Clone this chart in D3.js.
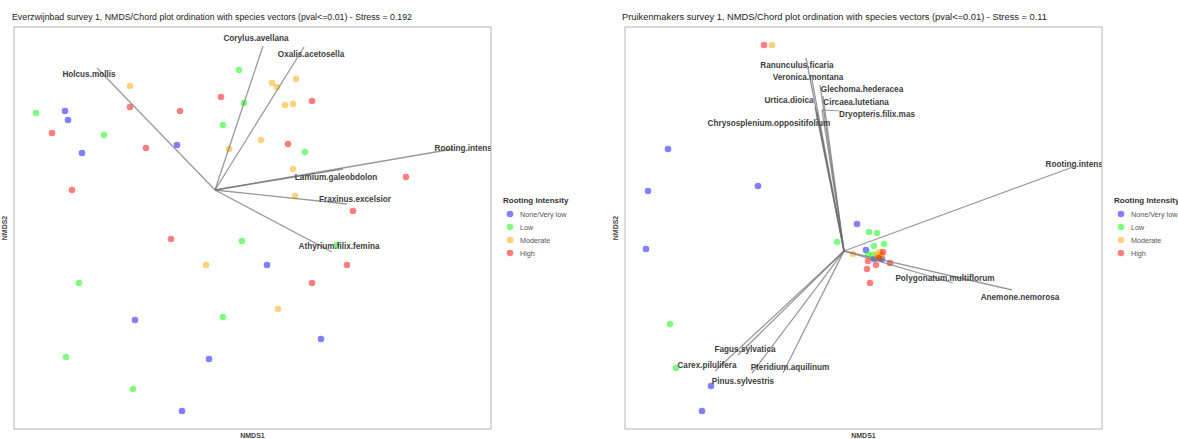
<!DOCTYPE html>
<html>
<head>
<meta charset="utf-8">
<script src="https://cdn.jsdelivr.net/npm/d3@7"></script>
<style>
  body { margin: 0; background: #fff; font-family: "Liberation Sans", Arial, sans-serif; }
  svg { display: block; }
</style>
</head>
<body>
<div id="chart"></div>
<script>
// legend groups
var groups = ["None/Very low", "Low", "Moderate", "High"];

// ---- Everzwijnbad: site scores [NMDS1, NMDS2] per rooting class
var evzNone = [[-0.75, 0.395], [-0.735, 0.35], [-0.665, 0.185], [-0.19, 0.225], [0.26, -0.375],
  [-0.40, -0.65], [-0.03, -0.845], [-0.165, -1.105], [0.53, -0.745]];
var evzLow = [[-0.895, 0.385], [-0.555, 0.275], [0.12, 0.60], [0.145, 0.435], [0.04, 0.325],
  [0.45, 0.19], [0.135, -0.255], [-0.68, -0.465], [0.04, -0.635], [-0.745, -0.835],
  [-0.41, -0.995], [0.61, -0.275]];
var evzModerate = [[-0.425, 0.52], [0.07, 0.205], [0.285, 0.535], [0.31, 0.515], [0.405, 0.555],
  [0.35, 0.425], [0.39, 0.43], [0.23, 0.25], [0.39, 0.105], [0.40, -0.03], [-0.045, -0.375],
  [0.315, -0.595]];
var evzHigh = [[-0.815, 0.285], [-0.715, 0.0], [-0.425, 0.415], [-0.175, 0.395], [-0.345, 0.21],
  [0.03, 0.465], [0.485, 0.445], [0.365, 0.23], [0.955, 0.065], [0.69, -0.105],
  [-0.22, -0.245], [0.66, -0.375], [0.485, -0.465]];

// fitted vectors (envfit, pval<=0.01)
var evzVectors = ["Holcus.mollis", "Corylus.avellana", "Oxalis.acetosella", "Rooting.intensity",
  "Lamium.galeobdolon", "Fraxinus.excelsior", "Athyrium.filix.femina"];
var evzVecX = [-0.59, 0.24, 0.445, 1.19, 0.64, 0.66, 0.585];
var evzVecY = [0.61, 0.72, 0.715, 0.205, 0.105, -0.07, -0.31];
var evzLabX = [-0.63, 0.205, 0.48, 1.265, 0.605, 0.70, 0.62];
var evzLabY = [0.58, 0.76, 0.68, 0.21, 0.065, -0.045, -0.28];

// ---- Pruikenmakers
var pkmNone = [[-0.88, 0.51], [-0.98, 0.30], [-0.43, 0.325], [0.065, 0.135], [-0.99, 0.01],
  [-0.665, -0.675], [-0.71, -0.80], [0.11, 0.005], [0.15, -0.04], [0.19, -0.04]];
var pkmLow = [[0.125, 0.095], [0.165, 0.09], [-0.87, -0.365], [-0.84, -0.585], [-0.035, 0.045],
  [0.20, 0.035], [0.15, 0.025], [0.12, -0.015], [0.18, -0.03], [0.145, -0.02]];
var pkmModerate = [[-0.36, 1.03], [0.045, -0.015], [0.165, -0.015], [0.18, -0.005], [0.19, -0.02],
  [0.17, -0.03]];
var pkmHigh = [[-0.40, 1.03], [0.195, -0.005], [0.23, -0.06], [0.12, -0.05], [0.16, -0.07],
  [0.115, -0.09], [0.13, -0.16], [0.175, -0.035]];

var pkmVectors = ["Ranunculus.ficaria", "Veronica.montana", "Glechoma.hederacea", "Circaea.lutetiana",
  "Urtica.dioica", "Dryopteris.filix.mas", "Chrysosplenium.oppositifolium", "Rooting.intensity",
  "Polygonatum.multiflorum", "Anemone.nemorosa", "Fagus.sylvatica", "Carex.pilulifera",
  "Pinus.sylvestris", "Pteridium.aquilinum"];
var pkmVecX = [-0.19, -0.16, -0.12, -0.105, -0.145, -0.11, -0.135, 1.145, 0.545, 0.84, -0.53, -0.645, -0.46, -0.305];
var pkmVecY = [0.965, 0.855, 0.83, 0.775, 0.72, 0.705, 0.695, 0.42, -0.16, -0.195, -0.52, -0.60, -0.61, -0.61];
var pkmLabX = [-0.235, -0.18, 0.09, 0.06, -0.275, 0.165, -0.375, 1.175, 0.505, 0.88, -0.495, -0.685, -0.505, -0.27];
var pkmLabY = [0.93, 0.87, 0.81, 0.745, 0.755, 0.685, 0.64, 0.435, -0.135, -0.23, -0.49, -0.57, -0.65, -0.58];

var colors = d3.scaleOrdinal().domain(groups).range(["#0000ff", "#00ff00", "#ffa500", "#ff0000"]);

var W = 1178, H = 439;
var svg = d3.select("#chart").append("svg").attr("width", W).attr("height", H);

function panel(cfg) {
    var x = d3.scaleLinear().domain(cfg.xDomain).range([cfg.left, cfg.right]);
    var y = d3.scaleLinear().domain(cfg.yDomain).range([cfg.bottom, cfg.top]);
    var g = svg.append("g");

    // title
    g.append("text")
        .attr("x", cfg.titleX).attr("y", 20)
        .attr("textLength", cfg.titleWidth)
        .attr("lengthAdjust", "spacingAndGlyphs")
        .style("font-size", "9.6px").style("fill", "#222")
        .text(cfg.title);

    var clipId = cfg.id + "-clip";
    g.append("clipPath").attr("id", clipId)
        .append("rect")
        .attr("x", cfg.left).attr("y", cfg.top)
        .attr("width", cfg.right - cfg.left).attr("height", cfg.bottom - cfg.top);

    var plot = g.append("g").attr("clip-path", "url(#" + clipId + ")");

    // points
    var sites = [];
    cfg.sites.forEach(function(arr, i) {
        arr.forEach(function(p) { sites.push({ group: groups[i], x: p[0], y: p[1] }); });
    });
    plot.selectAll("circle.site")
        .data(sites)
        .enter().append("circle")
        .attr("class", "site")
        .attr("cx", function(d) { return x(d.x); })
        .attr("cy", function(d) { return y(d.y); })
        .attr("r", 3.3)
        .style("fill", function(d) { return colors(d.group); })
        .style("fill-opacity", 0.5);

    // vectors
    var vecs = cfg.names.map(function(n, i) {
        return { name: n, x: cfg.vx[i], y: cfg.vy[i], lx: cfg.lx[i], ly: cfg.ly[i] };
    });
    plot.selectAll("line.vec")
        .data(vecs)
        .enter().append("line")
        .attr("class", "vec")
        .attr("x1", x(0)).attr("y1", y(0))
        .attr("x2", function(d) { return x(d.x); })
        .attr("y2", function(d) { return y(d.y); })
        .style("stroke", "#6e6e6e")
        .style("stroke-opacity", 0.7)
        .style("stroke-width", 1.3);

    var labels = plot.selectAll("text.vlab")
        .data(vecs)
        .enter().append("text")
        .attr("class", "vlab")
        .attr("x", function(d) { return x(d.lx); })
        .attr("y", function(d) { return y(d.ly); })
        .attr("dy", "0.35em")
        .attr("text-anchor", "middle")
        .style("font-size", "8.2px").style("font-weight", "bold")
        .style("fill", "#3d3d3d")
        .text(function(d) { return d.name; });

    // repel-style leader segments when a label sits away from its vector tip
    labels.each(function(d) {
        var b = this.getBBox();
        var px = x(d.x), py = y(d.y);
        var cx = Math.max(b.x, Math.min(px, b.x + b.width));
        var cy = Math.max(b.y + 1, Math.min(py, b.y + b.height - 1));
        if (Math.hypot(cx - px, cy - py) > 5) {
            plot.append("line")
                .attr("x1", px).attr("y1", py).attr("x2", cx).attr("y2", cy)
                .style("stroke", "#6e6e6e").style("stroke-opacity", 0.8)
                .style("stroke-width", 0.9);
        }
    });

    // panel border
    g.append("rect")
        .attr("x", cfg.left).attr("y", cfg.top)
        .attr("width", cfg.right - cfg.left).attr("height", cfg.bottom - cfg.top)
        .style("fill", "none").style("stroke", "#b5b5b5").style("stroke-width", 1);

    // axis titles
    g.append("text")
        .attr("x", (cfg.left + cfg.right) / 2).attr("y", 438)
        .attr("text-anchor", "middle")
        .style("font-size", "7px").style("font-weight", "bold").style("fill", "#444")
        .text("NMDS1");
    g.append("text")
        .attr("transform", "translate(" + (cfg.left - 7) + "," + ((cfg.top + cfg.bottom) / 2) + ") rotate(-90)")
        .attr("text-anchor", "middle")
        .style("font-size", "7px").style("font-weight", "bold").style("fill", "#444")
        .text("NMDS2");

    // legend
    var lg = g.append("g").attr("transform", "translate(" + cfg.legendX + ",200)");
    lg.append("text")
        .attr("x", 0).attr("y", 3)
        .style("font-size", "8px").style("font-weight", "bold").style("fill", "#333")
        .text("Rooting Intensity");
    var items = lg.selectAll("g.item")
        .data(groups)
        .enter().append("g")
        .attr("class", "item")
        .attr("transform", function(d, i) { return "translate(0," + (14 + i * 13) + ")"; });
    items.append("circle")
        .attr("cx", 7).attr("cy", 0).attr("r", 3.3)
        .style("fill", function(d) { return colors(d); })
        .style("fill-opacity", 0.5);
    items.append("text")
        .attr("x", 17).attr("y", 0).attr("dy", "0.35em")
        .style("font-size", "7.2px").style("fill", "#555")
        .text(function(d) { return d; });
}

panel({
    id: "evz",
    title: "Everzwijnbad survey 1, NMDS/Chord plot ordination with species vectors (pval<=0.01) - Stress = 0.192",
    titleX: 12, titleWidth: 400,
    left: 14, right: 491, top: 27, bottom: 429,
    xDomain: [-1.005, 1.38], yDomain: [-1.195, 0.815],
    sites: [evzNone, evzLow, evzModerate, evzHigh],
    names: evzVectors, vx: evzVecX, vy: evzVecY, lx: evzLabX, ly: evzLabY,
    legendX: 503
});

panel({
    id: "pkm",
    title: "Pruikenmakers survey 1, NMDS/Chord plot ordination with species vectors (pval<=0.01) - Stress = 0.11",
    titleX: 622, titleWidth: 425,
    left: 625, right: 1102, top: 27, bottom: 429,
    xDomain: [-1.095, 1.29], yDomain: [-0.89, 1.12],
    sites: [pkmNone, pkmLow, pkmModerate, pkmHigh],
    names: pkmVectors, vx: pkmVecX, vy: pkmVecY, lx: pkmLabX, ly: pkmLabY,
    legendX: 1114
});
</script>
</body>
</html>
